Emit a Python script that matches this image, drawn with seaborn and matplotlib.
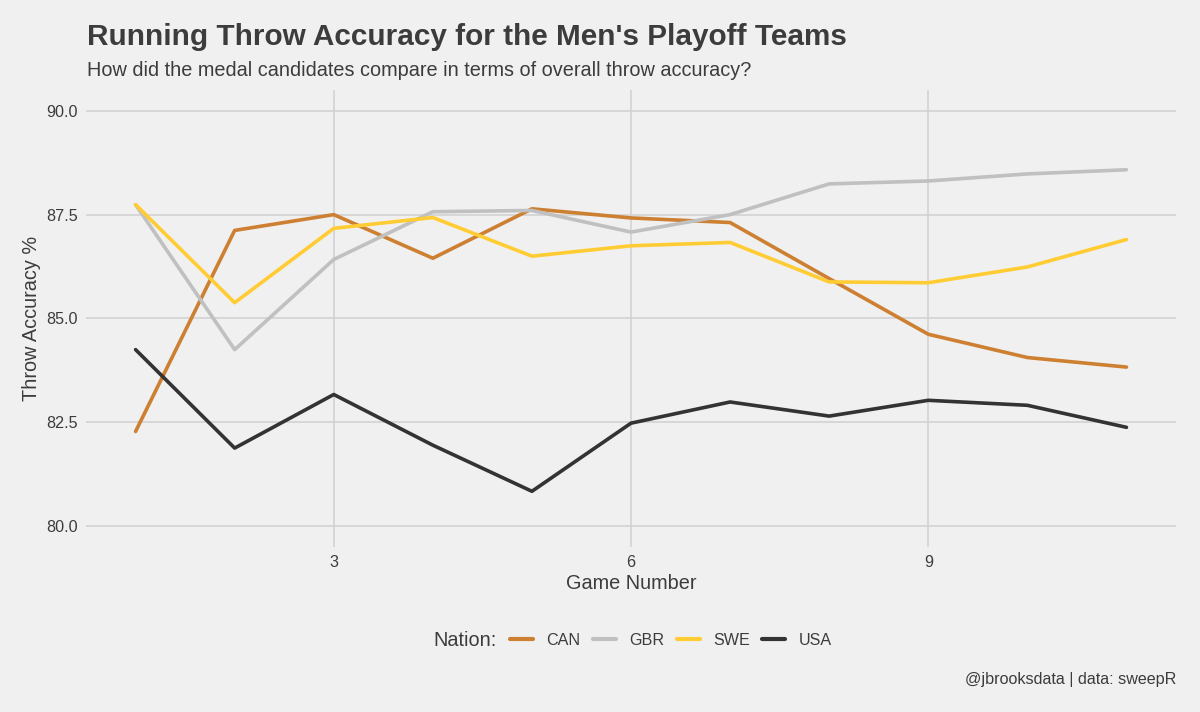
import numpy as np
import pandas as pd
import matplotlib
matplotlib.use('Agg')
import matplotlib.pyplot as plt
import seaborn as sns

# Data
GAMES = list(range(1, 12))
CAN = [82.28, 87.12, 87.50, 86.45, 87.64, 87.42, 87.31, 85.96, 84.62, 84.06, 83.83]
GBR = [87.74, 84.25, 86.42, 87.57, 87.60, 87.08, 87.50, 88.24, 88.31, 88.48, 88.58]
SWE = [87.74, 85.38, 87.17, 87.43, 86.50, 86.75, 86.83, 85.88, 85.86, 86.24, 86.90]
USA = [84.25, 81.88, 83.17, 81.95, 80.84, 82.48, 82.99, 82.65, 83.03, 82.91, 82.38]
NATIONS = ['CAN', 'GBR', 'SWE', 'USA']
Y_TICKS = [80.0, 82.5, 85.0, 87.5, 90.0]
X_TICKS = [3, 6, 9]

PALETTE = {'CAN': '#CD7F32', 'GBR': '#C0C0C0', 'SWE': '#FFCC33', 'USA': '#333333'}
BG = '#F0F0F0'
TEXT = '#3C3C3C'

# sizes, roughly ggplot's base / rel(0.8) / rel(1.5)
BASE = 14.3
SMALL = 11.6
TITLE = 21.4

df = pd.DataFrame({
    'game': GAMES * 4,
    'acc': CAN + GBR + SWE + USA,
    'nation': sum([[n] * len(GAMES) for n in NATIONS], []),
})

sns.set_theme(style='whitegrid')
plt.rcParams.update({
    'font.family': ['Liberation Sans', 'DejaVu Sans'],
    'figure.facecolor': BG,
    'axes.facecolor': BG,
    'grid.color': '#D2D2D2',
    'grid.linewidth': 1.2,
    'text.color': TEXT,
    'xtick.color': TEXT,
    'ytick.color': TEXT,
})

fig = plt.figure(figsize=(12, 7.12), dpi=100)
ax = fig.add_axes([0.0717, 0.2318, 0.9083, 0.6418])

sns.lineplot(data=df, x='game', y='acc', hue='nation', hue_order=NATIONS,
             palette=PALETTE, linewidth=2.6, ax=ax, legend=False)

ax.set_xlim(0.5, 11.5)
ax.set_ylim(79.5, 90.5)
ax.set_xticks(X_TICKS)
ax.set_yticks(Y_TICKS)
ax.set_yticklabels([f'{v:.1f}' for v in Y_TICKS])
ax.tick_params(axis='both', labelsize=SMALL, length=0, pad=6)
for s in ax.spines.values():
    s.set_visible(False)
ax.set_xlabel('Game Number', fontsize=BASE, color=TEXT, labelpad=3)
ax.set_ylabel('Throw Accuracy %', fontsize=BASE, color=TEXT, labelpad=4)

fig.text(0.0725, 0.9368, "Running Throw Accuracy for the Men's Playoff Teams",
         fontsize=TITLE, fontweight='bold', color=TEXT, va='baseline', ha='left')
fig.text(0.0725, 0.8926, 'How did the medal candidates compare in terms of overall throw accuracy?',
         fontsize=BASE, color=TEXT, va='baseline', ha='left')
fig.text(0.98, 0.045, '@jbrooksdata | data: sweepR', fontsize=SMALL, color=TEXT,
         ha='right', va='center')

handles = [plt.Line2D([], [], color=PALETTE[n], lw=3) for n in NATIONS]
leg = fig.legend(handles, NATIONS, loc='center left', bbox_to_anchor=(0.425, 0.101),
                 ncol=4, frameon=False, fontsize=SMALL, handlelength=1.43,
                 handletextpad=0.8, columnspacing=0.8, borderpad=0, borderaxespad=0)
fig.text(0.4142, 0.101, 'Nation:', fontsize=BASE, color=TEXT, ha='right', va='center')

fig.savefig('out.png', dpi=100, facecolor=BG)
